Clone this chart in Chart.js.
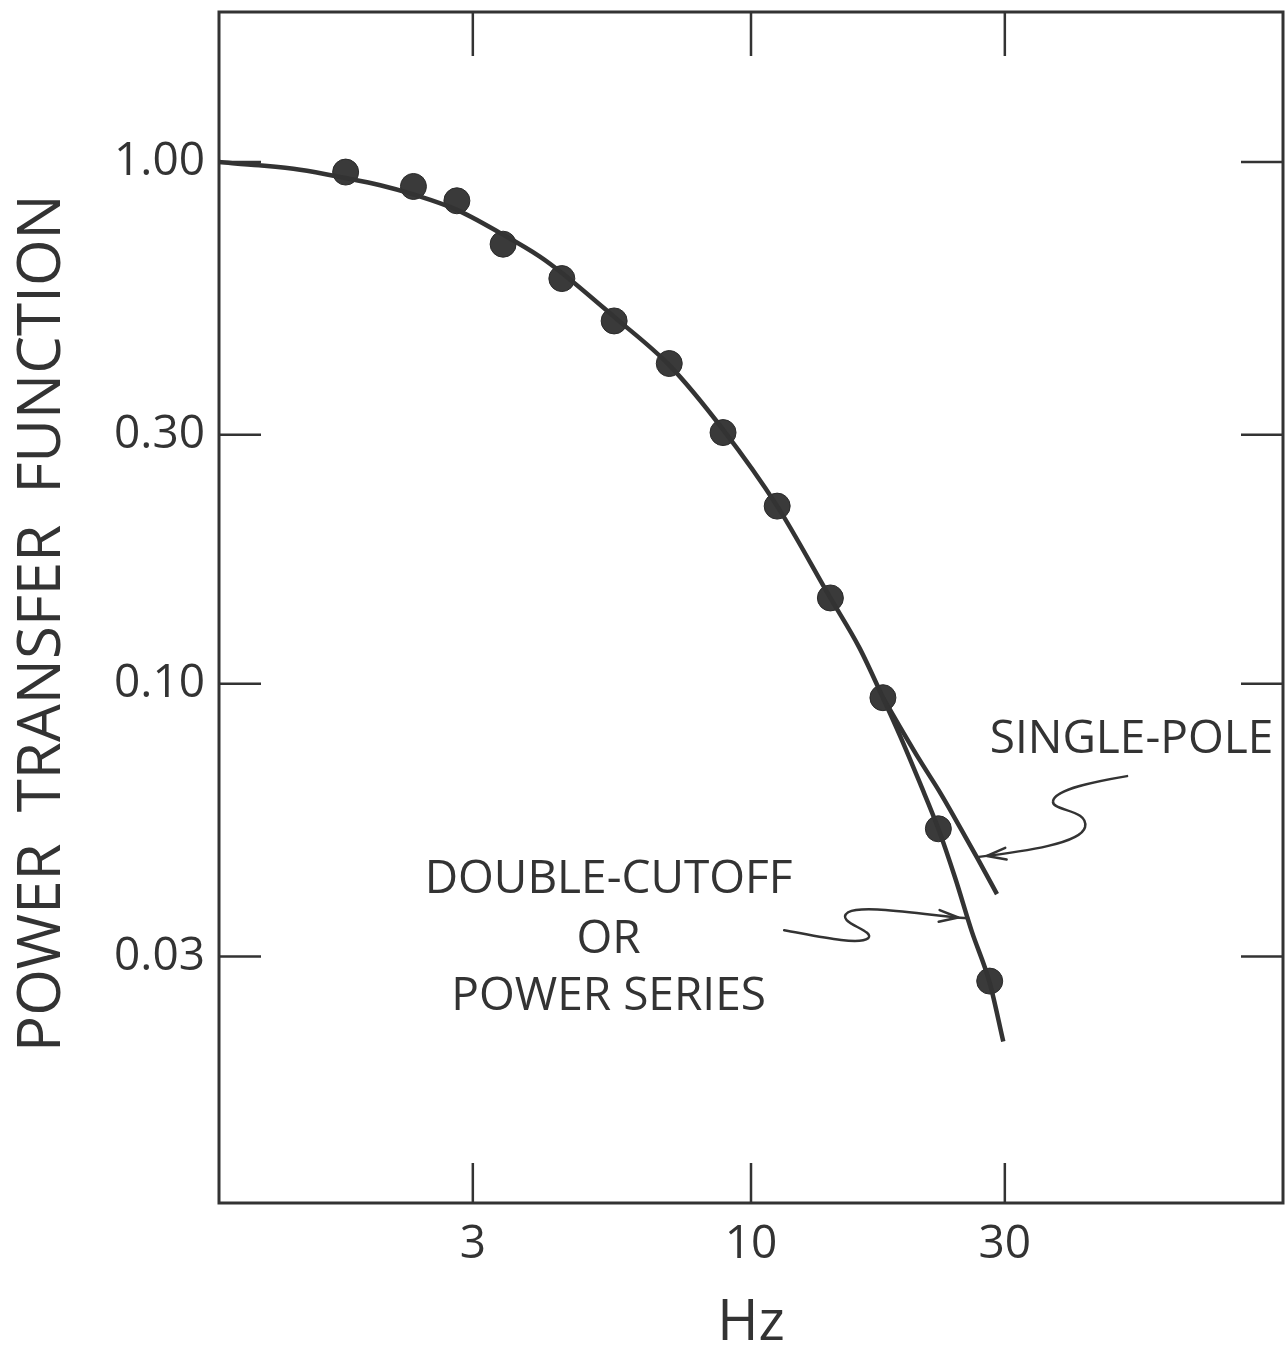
<!DOCTYPE html>
<html>
<head>
<meta charset="utf-8">
<script src="https://cdn.jsdelivr.net/npm/chart.js@4.4.1/dist/chart.umd.min.js"></script>
<style>
  html, body { margin: 0; padding: 0; background: #fff; }
</style>
</head>
<body>
<canvas id="chart" width="1285" height="1346"></canvas>
<script>
// measured points
const pointHz = [1.73, 2.32, 2.80, 3.42, 4.41, 5.53, 7.02, 8.86, 11.2, 14.1, 17.7, 22.5, 28.1];
const pointPower = [0.957, 0.898, 0.843, 0.696, 0.598, 0.496, 0.411, 0.303, 0.219, 0.146, 0.094, 0.0527, 0.0269];

// double-cutoff / power series curve
const curveHz = [1.0, 1.19, 1.42, 1.73, 2.01, 2.32, 2.80, 3.38, 4.01, 4.43, 5.53, 7.02, 8.86, 11.2, 14.1, 16.0, 17.7, 19.1, 20.8, 22.5, 24.2, 26.0, 28.1, 29.8];
const curvePower = [1.0, 0.986, 0.967, 0.932, 0.903, 0.867, 0.810, 0.731, 0.659, 0.611, 0.505, 0.408, 0.307, 0.219, 0.146, 0.117, 0.094, 0.0791, 0.0643, 0.0527, 0.0424, 0.0335, 0.0267, 0.0206];

// single-pole branch
const poleHz = [17.7, 19.1, 20.8, 22.7, 24.7, 26.7, 29.0];
const polePower = [0.094, 0.0823, 0.0711, 0.0617, 0.0531, 0.0461, 0.0395];

const xTicks = [3, 10, 30];
const xTickLabels = ['3', '10', '30'];
const yTicks = [0.03, 0.1, 0.3, 1];
const yTickLabels = ['0.03', '0.10', '0.30', '1.00'];

const noteText = ['SINGLE-POLE', 'DOUBLE-CUTOFF', 'OR', 'POWER SERIES'];
const noteHz = [28.1, 5.4, 5.4, 5.4];
const notePower = [0.078, 0.0421, 0.0323, 0.0251];

const ink = '#333333';
const fontFamily = "'Open Sans', 'DejaVu Sans', sans-serif";

function pairs(xs, ys) {
   return xs.map(function (v, i) { return { x: v, y: ys[i] }; });
}

function noPadding(scale) {
   scale.paddingTop = 0;
   scale.paddingBottom = 0;
   scale.paddingLeft = 0;
   scale.paddingRight = 0;
}

// squiggly arrows: tip sits on a curve (data coords), shape in pixel offsets from the tip
const arrows = [
   { x: 26.6, y: 0.0465, path: [[150, -81], [120, -76], [78, -68], [76, -56], [74, -46], [112, -48], [108, -30], [104, -14], [50, -6], [0, 0]] },
   { x: 25.6, y: 0.0355, path: [[-184, 12], [-160, 16], [-110, 28], [-100, 20], [-92, 12], [-135, 4], [-120, -6], [-105, -14], [-50, -4], [0, 0]] }
];

const frame = {
   id: 'frame',
   beforeDatasetsDraw(chart) {
      const ctx = chart.ctx;
      const a = chart.chartArea;
      const x = chart.scales.x;
      const y = chart.scales.y;
      ctx.save();
      ctx.strokeStyle = ink;
      ctx.lineWidth = 3;
      ctx.strokeRect(a.left, a.top, a.right - a.left, a.bottom - a.top);
      ctx.lineWidth = 2.5;
      ctx.beginPath();
      xTicks.forEach(function (v) {
         const px = x.getPixelForValue(v);
         ctx.moveTo(px, a.top); ctx.lineTo(px, a.top + 44);
         ctx.moveTo(px, a.bottom); ctx.lineTo(px, a.bottom - 40);
      });
      yTicks.forEach(function (v) {
         const py = y.getPixelForValue(v);
         ctx.moveTo(a.left, py); ctx.lineTo(a.left + 42, py);
         ctx.moveTo(a.right, py); ctx.lineTo(a.right - 42, py);
      });
      ctx.stroke();
      ctx.restore();
   },
   afterDatasetsDraw(chart) {
      const ctx = chart.ctx;
      const x = chart.scales.x;
      const y = chart.scales.y;
      ctx.save();
      ctx.fillStyle = ink;
      ctx.font = '46px ' + fontFamily;
      ctx.textBaseline = 'middle';
      for (var i = 0; i < noteText.length; i++) {
         ctx.textAlign = i === 0 ? 'left' : 'center';
         ctx.fillText(noteText[i], x.getPixelForValue(noteHz[i]), y.getPixelForValue(notePower[i]));
      }
      ctx.strokeStyle = ink;
      ctx.lineWidth = 2.5;
      ctx.lineCap = 'round';
      arrows.forEach(function (ar) {
         const tx = x.getPixelForValue(ar.x);
         const ty = y.getPixelForValue(ar.y);
         const p = ar.path;
         ctx.beginPath();
         ctx.moveTo(tx + p[0][0], ty + p[0][1]);
         for (var k = 1; k + 2 < p.length; k += 3) {
            ctx.bezierCurveTo(tx + p[k][0], ty + p[k][1], tx + p[k + 1][0], ty + p[k + 1][1], tx + p[k + 2][0], ty + p[k + 2][1]);
         }
         ctx.stroke();
         // arrow head
         const c = p[p.length - 2];
         const len = Math.hypot(c[0], c[1]);
         const dx = -c[0] / len, dy = -c[1] / len;
         const vx = tx - dx * 10, vy = ty - dy * 10;
         const ang = Math.atan2(dy, dx);
         ctx.beginPath();
         [0.3, -0.3].forEach(function (s) {
            ctx.moveTo(vx, vy);
            ctx.lineTo(vx - 20 * Math.cos(ang + s), vy - 20 * Math.sin(ang + s));
         });
         ctx.stroke();
      });
      ctx.restore();
   }
};

const config = {
   type: 'scatter',
   data: {
      datasets: [{
         type: 'line',
         data: pairs(curveHz, curvePower),
         borderColor: ink,
         borderWidth: 4.5,
         pointRadius: 0,
         cubicInterpolationMode: 'monotone',
         fill: false
      }, {
         type: 'line',
         data: pairs(poleHz, polePower),
         borderColor: ink,
         borderWidth: 4.5,
         pointRadius: 0,
         cubicInterpolationMode: 'monotone',
         fill: false
      }, {
         data: pairs(pointHz, pointPower),
         backgroundColor: '#3a3a3a',
         borderColor: '#2a2a2a',
         borderWidth: 1,
         pointRadius: 13
      }]
   },
   options: {
      responsive: false,
      animation: false,
      devicePixelRatio: 1,
      layout: { autoPadding: false, padding: { top: 12, right: 2, left: 0, bottom: 0 } },
      plugins: { legend: { display: false }, tooltip: { enabled: false } },
      scales: {
         x: {
            type: 'logarithmic',
            min: 1,
            max: 100,
            afterBuildTicks: function (scale) {
               scale.ticks = xTicks.map(function (v) { return { value: v }; });
            },
            afterFit: function (scale) { scale.height = 143; noPadding(scale); },
            grid: { display: false, drawTicks: false },
            border: { display: false },
            ticks: {
               autoSkip: false,
               maxRotation: 0,
               padding: 14,
               color: ink,
               font: { family: fontFamily, size: 46 },
               callback: function (value) { return xTickLabels[xTicks.indexOf(value)]; }
            },
            title: {
               display: true,
               text: 'Hz',
               color: ink,
               font: { family: fontFamily, size: 56, lineHeight: 1 },
               padding: { top: -6, bottom: -6 }
            }
         },
         y: {
            type: 'logarithmic',
            min: 0.0101,
            max: 1.94,
            afterBuildTicks: function (scale) {
               scale.ticks = yTicks.map(function (v) { return { value: v }; });
            },
            afterFit: function (scale) { scale.width = 219; noPadding(scale); },
            grid: { display: false, drawTicks: false },
            border: { display: false },
            ticks: {
               autoSkip: false,
               padding: 14,
               color: ink,
               font: { family: fontFamily, size: 46 },
               callback: function (value) { return yTickLabels[yTicks.indexOf(value)]; }
            },
            title: {
               display: true,
               text: 'POWER  TRANSFER  FUNCTION\u00a0\u00a0',
               color: ink,
               font: { family: fontFamily, size: 60, lineHeight: 1 },
               padding: { top: 13, bottom: 0 }
            }
         }
      }
   },
   plugins: [frame]
};

const myChart = new Chart(document.getElementById('chart'), config);
</script>
</body>
</html>
